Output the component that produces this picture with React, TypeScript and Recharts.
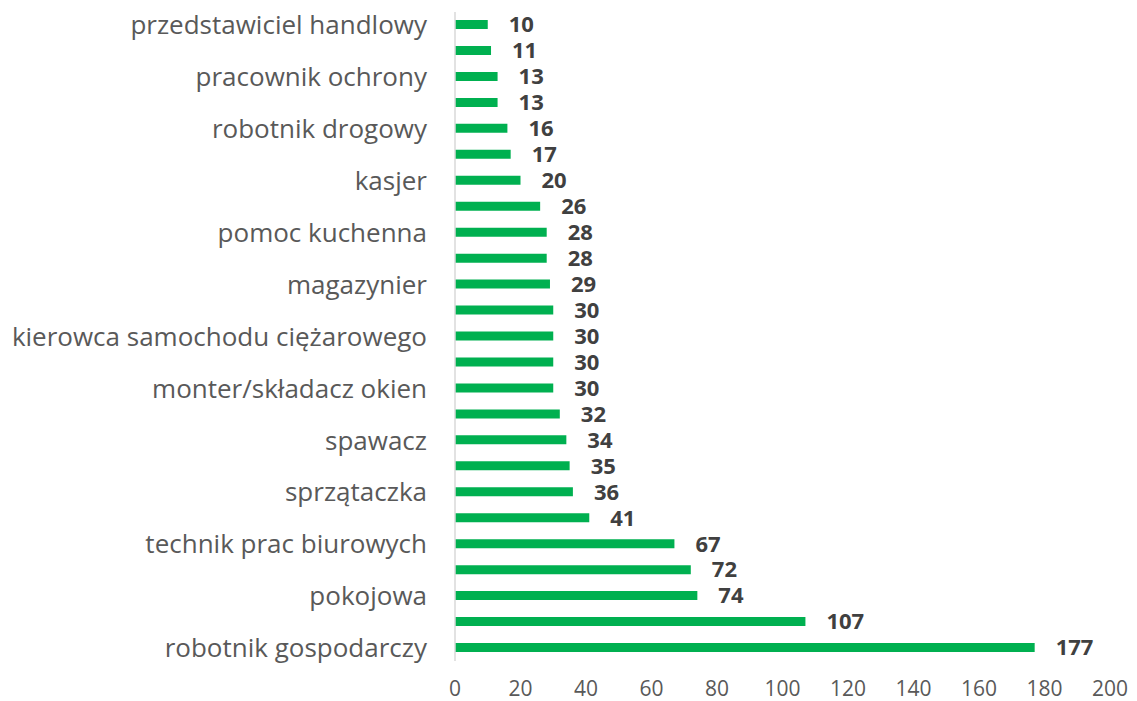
import { BarChart, Bar, XAxis, YAxis, LabelList } from "recharts";

// categories top to bottom; unnamed rows are ones whose label was skipped in the source
const labels = [
  "przedstawiciel handlowy",
  "",
  "pracownik ochrony",
  "",
  "robotnik drogowy",
  "",
  "kasjer",
  "",
  "pomoc kuchenna",
  "",
  "magazynier",
  "",
  "kierowca samochodu ciężarowego ",
  "",
  "monter/składacz okien",
  "",
  "spawacz",
  "",
  "sprzątaczka",
  "",
  "technik prac biurowych",
  "",
  "pokojowa",
  "",
  "robotnik gospodarczy",
];

const values = [
  10, 11, 13, 13, 16, 17, 20, 26, 28, 28, 29, 30, 30, 30, 30, 32, 34, 35, 36,
  41, 67, 72, 74, 107, 177,
];

const xTicks = [0, 20, 40, 60, 80, 100, 120, 140, 160, 180, 200];

const data = labels.map((label, i) => ({ id: i, label, value: values[i] }));

export default function App() {
  return (
    <div style={{ position: "absolute", left: 0, top: 0, background: "#fff" }}>
      <BarChart
        width={1137}
        height={701}
        data={data}
        layout="vertical"
        margin={{ top: 12, right: 27, bottom: 10, left: 0 }}
      >
        <XAxis
          type="number"
          domain={[0, 200]}
          ticks={xTicks}
          axisLine={false}
          tickLine={false}
          tickSize={0}
          tickMargin={20}
          height={30}
          tick={{ fill: "#595959", fontSize: 21, fontFamily: "Open Sans" }}
        />
        <YAxis
          type="category"
          dataKey="id"
          width={455}
          interval={0}
          axisLine={{ stroke: "#d9d9d9", strokeWidth: 1.5 }}
          tickLine={false}
          tickSize={0}
          tickMargin={28}
          tickFormatter={(i: number) => labels[i]}
          tick={{ fill: "#595959", fontSize: 26, fontFamily: "Open Sans" }}
        />
        <Bar dataKey="value" fill="#00b050" barSize={9} isAnimationActive={false}>
          <LabelList
            dataKey="value"
            position="right"
            offset={21}
            style={{ fill: "#404040", fontSize: 22, fontWeight: "bold", fontFamily: "Open Sans" }}
          />
        </Bar>
      </BarChart>
    </div>
  );
}
